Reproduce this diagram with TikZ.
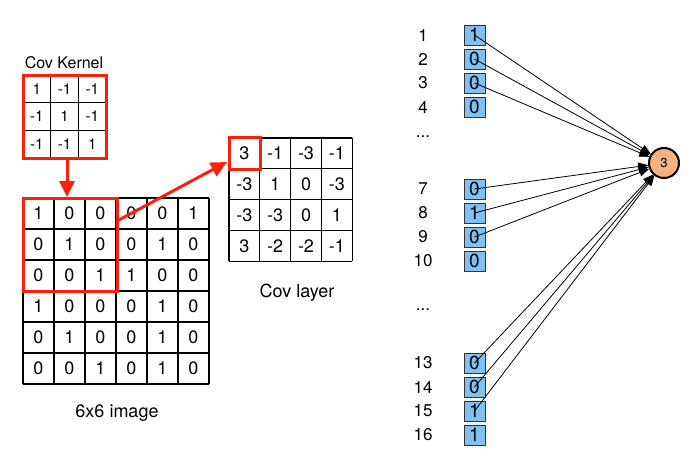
\documentclass[tikz,border=0pt]{standalone}
\usepackage{fontspec}
\setmainfont{TeX Gyre Heros}
\usetikzlibrary{arrows.meta,positioning}
\definecolor{boxblue}{RGB}{128,192,242}
\definecolor{cellorange}{RGB}{246,178,128}
\definecolor{kernred}{RGB}{250,32,10}
\tikzset{font=\fontsize{18}{20}\selectfont}
\tikzset{every node/.append style={transform shape=false}}
\tikzset{
  gridline/.style={line width=1.3pt},
  redbox/.style={draw=kernred, line width=3pt},
  redarrow/.style={draw=kernred, line width=3pt, -{Triangle[width=15pt,length=16pt]}, kernred},
  inbox/.style={draw=black!80, fill=boxblue, minimum width=21pt, minimum height=20pt, inner sep=0pt, font=\fontsize{19}{19}\selectfont},
  numlab/.style={font=\fontsize{17}{17}\selectfont},
  outcell/.style={circle, draw, line width=2pt, fill=cellorange, minimum size=30pt, inner sep=0pt, font=\fontsize{13}{13}\selectfont},
  link/.style={line width=0.8pt, -{Triangle[width=8pt,length=10pt]}}
}

\begin{document}
\begin{tikzpicture}[x=1pt,y=-1pt]
  \useasboundingbox (0,0) rectangle (700,466);

  % kernel 3x3
  \node[font=\fontsize{16}{16}\selectfont] (kname) at (64,63) {Cov Kernel};
  \foreach \k in {0,...,3}{
    \draw[gridline] (23+27.7*\k,75) -- (23+27.7*\k,158.1);
    \draw[gridline] (23,75+27.7*\k) -- (106.1,75+27.7*\k);
  }
  \foreach \row [count=\j from 0] in {{1,-1,-1},{-1,1,-1},{-1,-1,1}}
    \foreach \v [count=\i from 0] in \row
      \node[font=\fontsize{15}{15}\selectfont] (k-\j-\i) at ({36.85+27.7*\i},{88.85+27.7*\j}) {\v};
  \draw[redbox] (23,75) rectangle (106.1,158.1);

  % image 6x6
  \foreach \k in {0,...,6}{
    \draw[gridline] (23+31*\k,198) -- (23+31*\k,384);
    \draw[gridline] (23,198+31*\k) -- (209,198+31*\k);
  }
  \foreach \row [count=\j from 0] in {{1,0,0,0,0,1},{0,1,0,0,1,0},{0,0,1,1,0,0},
                                      {1,0,0,0,1,0},{0,1,0,0,1,0},{0,0,1,0,1,0}}
    \foreach \v [count=\i from 0] in \row
      \node (m-\j-\i) at ({38.5+31*\i},{213.5+31*\j}) {\v};
  \draw[redbox] (23,198) rectangle (117,291);
  \node (mname) at (117,413) {6x6 image};

  % cov layer 4x4
  \foreach \k in {0,...,4}{
    \draw[gridline] (229+30.8*\k,138) -- (229+30.8*\k,261.2);
    \draw[gridline] (229,138+30.8*\k) -- (352.2,138+30.8*\k);
  }
  \foreach \row [count=\j from 0] in {{3,-1,-3,-1},{-3,1,0,-3},{-3,-3,0,1},{3,-2,-2,-1}}
    \foreach \v [count=\i from 0] in \row
      \node (c-\j-\i) at ({244.4+30.8*\i},{153.4+30.8*\j}) {\v};
  \draw[redbox] (229,137) rectangle (260,169);
  \node (cname) at (297,293) {Cov layer};

  % red arrows
  \coordinate (kbot) at (67,158);
  \coordinate (mtop) at (67,197);
  \coordinate (mside) at (117,221);
  \coordinate (ccell) at (227,162);
  \draw[redarrow] (kbot) -- (mtop);
  \draw[redarrow] (mside) -- (ccell);

  % flattened input
  \foreach \n/\y/\v in {1/35/1, 2/59/0, 3/83/0, 4/107/0, 7/189/0, 8/213/1, 9/237/0, 10/261/0,
                        13/363/0, 14/387/0, 15/411/1, 16/435/1}{
    \node[numlab] (l\n) at (423,\y) {\n};
    \node[inbox] (b\n) at (474.5,\y) {\v};
  }
  \node[numlab] (dotsa) at (423,137) {...};
  \node[numlab] (dotsb) at (423,310) {...};

  \node[outcell] (out) at (664,163) {3};
  \foreach \n in {1,2,3,7,8,9,13,14,15}
    \draw[link] (b\n.center) -- (out);
\end{tikzpicture}
\end{document}
